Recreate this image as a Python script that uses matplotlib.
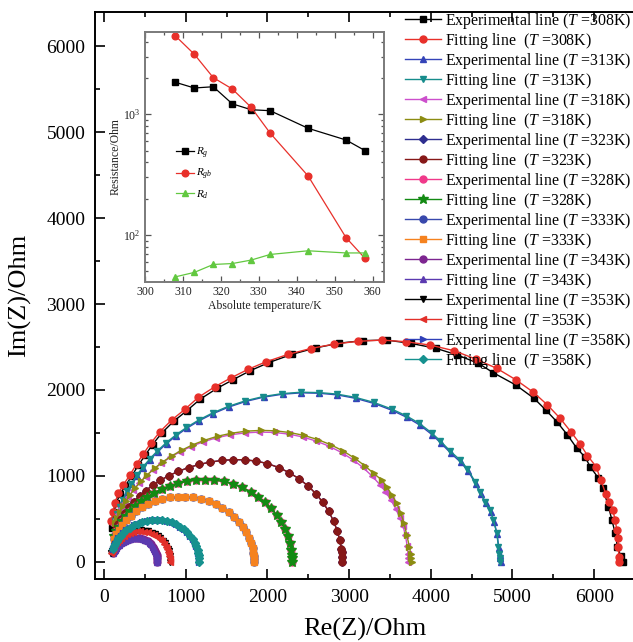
import matplotlib
matplotlib.use('Agg')
import matplotlib.pyplot as plt
from matplotlib.ticker import MultipleLocator, LogLocator, NullFormatter

plt.rcParams['font.family'] = ['Liberation Serif', 'DejaVu Serif']
plt.rcParams['mathtext.fontset'] = 'custom'
plt.rcParams['mathtext.rm'] = 'Liberation Serif'
plt.rcParams['mathtext.it'] = 'Liberation Serif:italic'
plt.rcParams['mathtext.bf'] = 'Liberation Serif:bold'

# ---------------- Nyquist data (Re(Z), Im(Z)) ----------------
re_308_exp = [6359, 6326, 6285, 6257, 6217, 6175, 6106, 6053, 5951, 5890, 5788, 5673, 5543, 5408, 5264, 5041, 4767, 4583,
              4326, 4065, 3755, 3461, 3170, 2880, 2590, 2300, 2020, 1790, 1580, 1385, 1180, 1015, 852, 708, 594, 504,
              420, 338, 257, 195, 150, 122, 104, 92]
im_308_exp = [3, 62, 178, 334, 488, 643, 857, 973, 1108, 1217, 1322, 1477, 1631, 1767, 1903, 2058, 2200, 2310,
              2407, 2485, 2543, 2581, 2575, 2545, 2490, 2415, 2320, 2225, 2120, 2020, 1895, 1760, 1635, 1500, 1365, 1240,
              1125, 995, 880, 785, 685, 580, 480, 390]
re_308_fit = [6309, 6305, 6297, 6287, 6277, 6257, 6228, 6187, 6143, 6082, 6024, 5918, 5828, 5714, 5583, 5428, 5257, 5040,
              4808, 4550, 4286, 3992, 3698, 3400, 3110, 2820, 2530, 2250, 1980, 1760, 1550, 1359, 1155, 992, 829, 686,
              572, 482, 400, 318, 237, 175, 135, 108, 90]
im_308_fit = [0, 60, 178, 280, 372, 488, 605, 701, 791, 950, 1108, 1236, 1372, 1515, 1671, 1826, 1973, 2120,
              2252, 2360, 2457, 2523, 2562, 2581, 2567, 2535, 2483, 2414, 2327, 2239, 2139, 2039, 1915, 1776, 1651, 1515,
              1380, 1256, 1140, 1012, 895, 799, 690, 580, 470]

re_313_exp = [4858, 4853, 4846, 4833, 4812, 4775, 4732, 4672, 4610, 4548, 4455, 4365, 4245, 4120, 4018, 3866, 3706, 3526,
              3306, 3079, 2855, 2636, 2416, 2186, 1956, 1736, 1526, 1336, 1166, 1016, 886, 766, 661, 566, 481, 406,
              341, 286, 236, 196, 166, 141]
im_313_exp = [0, 40, 82, 165, 318, 468, 585, 680, 795, 910, 1060, 1160, 1265, 1385, 1478, 1592, 1682, 1763,
              1843, 1903, 1943, 1962, 1967, 1951, 1917, 1867, 1801, 1725, 1643, 1556, 1469, 1377, 1284, 1190, 1094, 997,
              903, 811, 717, 628, 552, 472]
re_313_fit = [4849, 4845, 4840, 4828, 4808, 4767, 4726, 4665, 4604, 4542, 4448, 4359, 4237, 4114, 4012, 3860, 3700, 3520,
              3300, 3073, 2849, 2630, 2410, 2180, 1950, 1730, 1520, 1330, 1160, 1010, 880, 760, 655, 560, 475, 400,
              335, 280, 230, 190, 160, 135]
im_313_fit = [0, 45, 90, 178, 334, 488, 605, 701, 818, 934, 1085, 1185, 1290, 1410, 1500, 1612, 1700, 1779,
              1857, 1915, 1953, 1970, 1974, 1958, 1924, 1874, 1809, 1733, 1651, 1564, 1477, 1385, 1292, 1198, 1102, 1005,
              911, 819, 725, 636, 560, 480]

re_318_exp = [3727, 3724, 3722, 3712, 3690, 3660, 3620, 3570, 3510, 3445, 3380, 3280, 3170, 3050, 2910, 2760, 2600, 2430,
              2260, 2080, 1900, 1720, 1540, 1370, 1210, 1065, 930, 810, 700, 600, 510, 430, 360, 300, 250, 210, 175,
              145, 120]
im_318_exp = [0, 45, 90, 180, 308, 420, 515, 620, 723, 817, 896, 1000, 1098, 1186, 1271, 1344, 1405, 1454,
              1487, 1506, 1510, 1500, 1477, 1442, 1395, 1342, 1280, 1215, 1145, 1070, 993, 915, 837, 760, 687, 624, 557,
              493, 433]
re_318_fit = [3768, 3763, 3755, 3738, 3706, 3673, 3633, 3584, 3523, 3461, 3400, 3300, 3190, 3070, 2930, 2780, 2620, 2450,
              2280, 2100, 1920, 1740, 1560, 1390, 1230, 1085, 950, 830, 720, 620, 530, 450, 380, 320, 270, 230, 195,
              165, 140]
im_318_fit = [0, 45, 90, 178, 314, 450, 566, 682, 779, 876, 953, 1030, 1120, 1205, 1289, 1361, 1422, 1471,
              1504, 1525, 1530, 1521, 1497, 1462, 1415, 1362, 1299, 1234, 1164, 1090, 1013, 935, 857, 780, 707, 644, 577,
              513, 453]

re_323 = [2915, 2912, 2908, 2905, 2885, 2855, 2810, 2750, 2680, 2600, 2500, 2390, 2270, 2140, 2000, 1860, 1720,
          1580, 1440, 1300, 1165, 1035, 910, 795, 690, 595, 510, 435, 365, 305, 255, 210, 175, 145]
im_323 = [0, 60, 110, 150, 258, 362, 475, 588, 691, 786, 882, 965, 1037, 1097, 1144, 1173, 1188,
          1189, 1180, 1161, 1133, 1097, 1053, 1003, 949, 890, 829, 768, 701, 634, 572, 504, 444, 381]

re_328 = [2302, 2300, 2298, 2290, 2275, 2250, 2215, 2170, 2115, 2050, 1975, 1890, 1795, 1690, 1580, 1465, 1350,
          1240, 1130, 1020, 910, 805, 705, 610, 525, 450, 380, 320, 265, 220, 180, 150, 125]
im_328 = [0, 40, 85, 143, 215, 296, 380, 463, 544, 621, 692, 758, 817, 867, 907, 935, 950,
          955, 950, 937, 915, 885, 848, 804, 755, 705, 649, 592, 531, 473, 410, 355, 301]

re_333 = [1837, 1836, 1834, 1828, 1818, 1800, 1775, 1742, 1700, 1650, 1592, 1525, 1450, 1368, 1280, 1185, 1090,
          995, 900, 805, 712, 624, 540, 463, 392, 328, 272, 224, 184, 152, 126]
im_333 = [0, 30, 62, 107, 157, 217, 279, 342, 406, 467, 524, 579, 628, 670, 705, 733, 750,
          759, 759, 750, 732, 706, 672, 633, 588, 537, 485, 429, 375, 320, 267]

re_343 = [655, 653, 650, 645, 638, 628, 615, 599, 580, 558, 533, 505, 475, 444, 412, 378, 345, 313, 283, 255,
          229, 205, 183, 163, 145, 130, 117, 106]
im_343 = [0, 35, 56, 79, 102, 128, 153, 178, 202, 223, 242, 258, 270, 277, 280, 279, 274, 267, 258, 246,
          233, 217, 200, 182, 162, 142, 121, 99]

re_353_exp = [812, 810, 806, 800, 791, 779, 763, 743, 719, 691, 659, 623, 584, 542, 496, 450, 405, 360, 318, 280,
              244, 212, 183, 158, 137, 120, 106, 95, 87]
im_353_exp = [0, 38, 66, 93, 123, 153, 184, 215, 245, 273, 299, 322, 341, 355, 364, 368, 366, 358, 346, 330,
              310, 287, 262, 236, 209, 182, 154, 128, 104]
re_353_fit = [804, 802, 798, 792, 783, 771, 755, 735, 711, 683, 651, 615, 576, 535, 490, 445, 400, 357, 316, 278,
              243, 212, 184, 160, 140, 123, 109, 98, 90]
im_353_fit = [0, 37, 64, 90, 119, 148, 178, 208, 237, 264, 289, 311, 329, 343, 352, 355, 353, 346, 334, 318,
              299, 277, 253, 228, 202, 176, 149, 124, 101]

re_358 = [1167, 1165, 1161, 1155, 1145, 1130, 1110, 1085, 1055, 1020, 980, 935, 885, 830, 772, 712, 650, 588,
          528, 470, 415, 364, 317, 275, 238, 205, 177, 154, 135, 120, 112]
im_358 = [0, 44, 75, 104, 142, 182, 223, 265, 305, 342, 377, 409, 436, 459, 476, 486, 490, 487,
          479, 465, 446, 424, 398, 369, 339, 306, 273, 242, 210, 180, 150]

temps_label = ['308', '308', '313', '313', '318', '318', '323', '323', '328', '328',
               '333', '333', '343', '343', '353', '353', '358', '358']

# ---------------- Inset data ----------------
temps = [308, 313, 318, 323, 328, 333, 343, 353, 358]
R_g = [1840, 1650, 1690, 1220, 1090, 1070, 765, 612, 500]
R_gb = [4460, 3140, 2010, 1620, 1140, 697, 308, 95, 64]
R_d = [45, 49, 57, 58, 62, 69, 74, 71, 71]

# ---------------- Figure ----------------
fig = plt.figure(figsize=(6.33, 6.42), dpi=100)
ax = fig.add_axes([95/633, 1-579/642, 540/633, 567/642])

series = [
    (re_308_exp, im_308_exp, '#000000', 's', 4.5),
    (re_308_fit, im_308_fit, '#e8302a', 'o', 5.0),
    (re_313_exp, im_313_exp, '#3444b8', '^', 5.0),
    (re_313_fit, im_313_fit, '#178c8c', 'v', 5.0),
    (re_318_exp, im_318_exp, '#cc4fcc', '<', 5.0),
    (re_318_fit, im_318_fit, '#8c8c12', '>', 5.0),
    (re_323, im_323, '#2e2e8f', 'D', 4.2),
    (re_323, im_323, '#861818', 'o', 5.0),
    (re_328, im_328, '#f0398a', 'o', 5.0),
    (re_328, im_328, '#138a13', '*', 7.0),
    (re_333, im_333, '#3848ac', 'o', 5.0),
    (re_333, im_333, '#f5821f', 's', 4.8),
    (re_343, im_343, '#7d2590', 'o', 5.0),
    (re_343, im_343, '#5b3ab0', '^', 5.0),
    (re_353_exp, im_353_exp, '#000000', 'v', 5.0),
    (re_353_fit, im_353_fit, '#e2302a', '<', 5.0),
    (re_358, im_358, '#3040b8', '>', 5.0),
    (re_358, im_358, '#16918f', 'D', 4.5),
]

for i, (xr, yi, col, mk, ms) in enumerate(series):
    kind = 'Experimental line' if i % 2 == 0 else 'Fitting line '
    lab = kind + ' ($T$ =' + temps_label[i] + 'K)'
    ax.plot(xr, yi, color=col, marker=mk, ms=ms, lw=1.0, mec=col, mfc=col, label=lab)

ax.set_xlim(-110, 6500)
ax.set_ylim(-200, 6400)
ax.xaxis.set_major_locator(MultipleLocator(1000))
ax.xaxis.set_minor_locator(MultipleLocator(500))
ax.yaxis.set_major_locator(MultipleLocator(1000))
ax.yaxis.set_minor_locator(MultipleLocator(500))
ax.tick_params(which='both', direction='in', top=True, right=False, width=1.2, labelsize=14)
ax.tick_params(which='major', length=7, pad=7)
ax.tick_params(which='minor', length=3.5)
for sp in ax.spines.values():
    sp.set_linewidth(1.4)
ax.set_xlabel('Re(Z)/Ohm', fontsize=19, labelpad=9)
ax.set_ylabel('Im(Z)/Ohm', fontsize=19, labelpad=11)

ax.legend(loc='upper left', bbox_to_anchor=(405/633, 1-11/642), bbox_transform=fig.transFigure,
          frameon=False, fontsize=11.4, handlelength=2.3, handletextpad=0.25, labelspacing=0.0,
          borderpad=0, borderaxespad=0, numpoints=1)

# ---------------- Inset ----------------
axin = fig.add_axes([145/633, 1-282/642, 239/633, 250/642])
axin.set_yscale('log')
axin.plot(temps, R_g, color='#000000', marker='s', ms=4.5, lw=0.9, label='$R_g$')
axin.plot(temps, R_gb, color='#e8302a', marker='o', ms=4.8, lw=0.9, label='$R_{gb}$')
axin.plot(temps, R_d, color='#62c840', marker='^', ms=5.0, lw=0.9, label='$R_d$')
axin.set_xlim(300, 363)
axin.set_ylim(40.8, 4800)
axin.xaxis.set_major_locator(MultipleLocator(10))
axin.xaxis.set_minor_locator(MultipleLocator(5))
axin.yaxis.set_major_locator(LogLocator(base=10))
axin.yaxis.set_minor_locator(LogLocator(base=10, subs=range(2, 10)))
axin.yaxis.set_minor_formatter(NullFormatter())
axin.tick_params(which='both', direction='in', top=True, right=True, labelsize=8.5,
                 color='#555555', labelcolor='#222222', width=0.9)
axin.tick_params(which='major', length=4, pad=3)
axin.tick_params(which='minor', length=2)
for sp in axin.spines.values():
    sp.set_linewidth(1.4)
    sp.set_color('#7a7a7a')
axin.set_xlabel('Absolute temperature/K', fontsize=8.5, labelpad=1, color='#222222')
axin.set_ylabel('Resistance/Ohm', fontsize=8.5, labelpad=1, color='#222222')
axin.legend(loc='upper left', bbox_to_anchor=(0.13, 0.545), frameon=False, fontsize=8,
            handlelength=1.6, handletextpad=0.2, labelspacing=0.55, borderpad=0, borderaxespad=0, numpoints=1)

fig.savefig('out.png', dpi=100)
